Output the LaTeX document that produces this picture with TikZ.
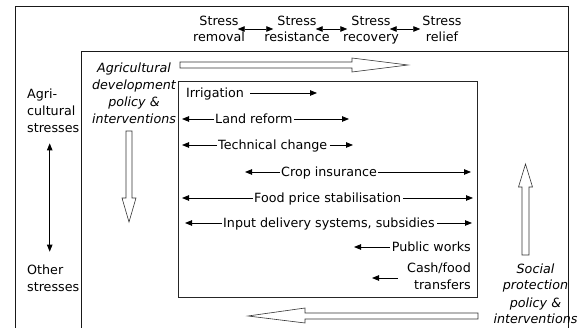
\documentclass[tikz,border=0pt]{standalone}
\usepackage{fontspec}
\setmainfont{DejaVu Sans}
\usetikzlibrary{arrows.meta}
\begin{document}
\begin{tikzpicture}[x=1pt,y=-1pt,
  txt/.style={font=\fontsize{12.7pt}{17pt}\selectfont, inner sep=0pt, text=black},
  itxt/.style={txt, font=\fontsize{12.7pt}{17pt}\selectfont\itshape, align=center},
  arr/.style={-{Triangle[length=7pt,width=5.5pt]}, line width=0.8pt},
  dbl/.style={{Triangle[length=7pt,width=5.5pt]}-{Triangle[length=7pt,width=5.5pt]}, line width=0.8pt},
  frame/.style={line width=1pt, black!90},
  hollow/.style={line width=0.6pt, black!80, fill=white}]
\useasboundingbox (0,0) rectangle (578,328);
% frames
\draw[frame] (15,328) -- (15,7) -- (568,7) -- (568,328);
\draw[frame] (81,328) -- (81,52) -- (568,52);
\node[draw, line width=0.8pt, black!85, inner sep=0pt, minimum width=299pt, minimum height=216pt, anchor=north west] (box) at (178,81) {};
% top labels
\node[txt,anchor=base] (s1) at (219,25.5) {Stress};
\node[txt,anchor=base] (l1) at (219,41.5) {removal};
\node[txt,anchor=base] (s2) at (297,25.5) {Stress};
\node[txt,anchor=base] (l2) at (297,41.5) {resistance};
\node[txt,anchor=base] (s3) at (371,25.5) {Stress};
\node[txt,anchor=base] (l3) at (371,41.5) {recovery};
\node[txt,anchor=base] (s4) at (442,25.5) {Stress};
\node[txt,anchor=base] (l4) at (442,41.5) {relief};
\draw[dbl, shorten <=-1pt, shorten >=4pt] ([yshift=-3.5pt]s1.base east) -- ([yshift=-3.5pt]s2.base west);
\draw[dbl, shorten <=-1pt, shorten >=4pt] ([yshift=-3.5pt]s2.base east) -- ([yshift=-3.5pt]s3.base west);
\draw[dbl, shorten <=-1pt, shorten >=2pt] ([yshift=-3.5pt]s3.base east) -- ([yshift=-3.5pt]s4.base west);
% left labels (base anchor = last line)
\node[txt,align=left,anchor=base west] (agri) at (27,132.5) {Agri-\\cultural\\stresses};
\node[txt,align=left,anchor=base west] (oth) at (27,291.5) {Other\\stresses};
\draw[dbl, shorten <=10.5pt, shorten >=13pt] ([xshift=-3.5pt]agri.south) -- ([xshift=-3.5pt]oth.north);
% italic labels
\node[itxt,anchor=base] (agdev) at (134,123.5) {Agricultural\\development\\policy \&\\interventions};
\node[itxt,anchor=base] (soc) at (535.5,324) {Social\\protection\\policy \&\\interventions};
% hollow arrows
\draw[hollow] (180,62) -- (352,62) -- (352,58) -- (408,65) -- (352,72) -- (352,68) -- (180,68) -- cycle;
\draw[hollow] (126,131) -- (132,131) -- (132,198) -- (136,198) -- (129,222) -- (122,198) -- (126,198) -- cycle;
\draw[hollow] (522,255) -- (529,255) -- (529,187) -- (532.5,187) -- (525.5,164) -- (518.5,187) -- (522,187) -- cycle;
\draw[hollow] (478,313) -- (478,319) -- (305,319) -- (305,323) -- (248,316) -- (305,308) -- (305,313) -- cycle;
% rows
\node[txt,anchor=base west] (irr) at (186,97.5) {Irrigation};
\coordinate (irrR) at (317,93);
\draw[arr, shorten <=6pt] (irr.east |- irrR) -- (irrR);

\node[txt,anchor=base west] (lr) at (215,123.5) {Land reform};
\coordinate (lrL) at (182,119); \coordinate (lrR) at (349,119);
\draw[arr, shorten <=1pt] (lr.west |- lrL) -- (lrL);
\draw[arr, shorten <=1pt] (lr.east |- lrR) -- (lrR);

\node[txt,anchor=base west] (tc) at (218,149.5) {Technical change};
\coordinate (tcL) at (182,145); \coordinate (tcR) at (353,145);
\draw[arr, shorten <=1pt] (tc.west |- tcL) -- (tcL);
\draw[arr, shorten <=2.5pt] (tc.east |- tcR) -- (tcR);

\node[txt,anchor=base west] (ci) at (281,176.5) {Crop insurance};
\coordinate (ciL) at (245,172); \coordinate (ciR) at (471,172);
\draw[arr, shorten <=1pt] (ci.west |- ciL) -- (ciL);
\draw[arr, shorten <=1pt] (ci.east |- ciR) -- (ciR);

\node[txt,anchor=base west] (fp) at (254,202.5) {Food price stabilisation};
\coordinate (fpL) at (182,198); \coordinate (fpR) at (473,198);
\draw[arr, shorten <=1pt] (fp.west |- fpL) -- (fpL);
\draw[arr, shorten <=1.5pt] (fp.east |- fpR) -- (fpR);

\node[txt,anchor=base west] (id) at (223,227.5) {Input delivery systems, subsidies};
\coordinate (idL) at (185,223); \coordinate (idR) at (472,223);
\draw[arr, shorten <=1.5pt] (id.west |- idL) -- (idL);
\draw[arr, shorten <=2.5pt] (id.east |- idR) -- (idR);

\node[txt,anchor=base east] (pw) at (471,251.5) {Public works};
\coordinate (pwL) at (354,247);
\draw[arr, shorten <=2pt] (pw.west |- pwL) -- (pwL);

\node[txt,align=right,anchor=base east] (cf) at (471,289.5) {Cash/food\\transfers};
\coordinate (cfL) at (372,278);
\draw[arr, shorten <=9pt] (cf.west |- cfL) -- (cfL);
\end{tikzpicture}
\end{document}
